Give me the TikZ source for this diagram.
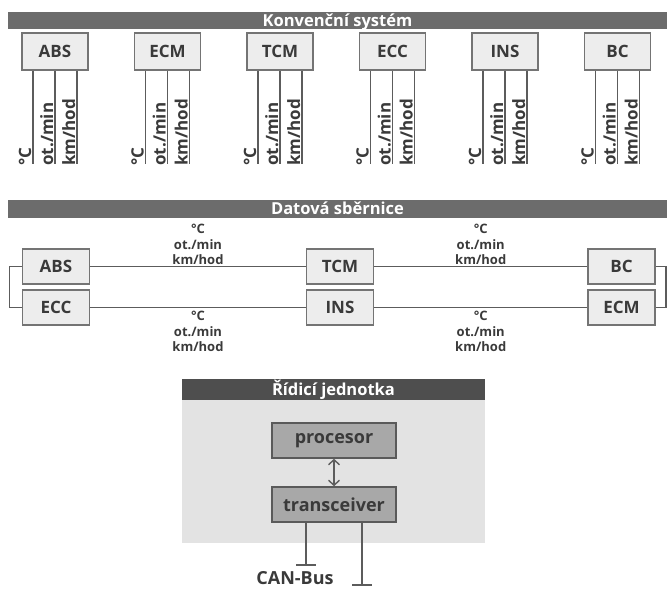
\documentclass[tikz,border=0pt]{standalone}
\usepackage{fontspec}
\setmainfont{Open Sans}
\usetikzlibrary{arrows.meta}
\definecolor{barcol}{HTML}{6C6C6C}
\definecolor{darkbar}{HTML}{4E4E4E}
\definecolor{boxfill}{HTML}{EDEDED}
\definecolor{boxline}{HTML}{747474}
\definecolor{chipfill}{HTML}{A8A8A8}
\definecolor{chipline}{HTML}{5A5A5A}
\definecolor{panel}{HTML}{E3E3E3}
\definecolor{wirecol}{HTML}{5C5C5C}
\definecolor{textcol}{HTML}{3A3A3A}

\begin{document}
\begin{tikzpicture}[x=1pt,y=1pt,
  titlebar/.style={fill=barcol,minimum height=17pt,inner sep=0pt,text=white,
    text height=12pt,text depth=0pt,font=\fontsize{16.5}{18}\bfseries\selectfont},
  ecu/.style={draw=boxline,line width=1.6pt,fill=boxfill,minimum width=66pt,
    minimum height=37pt,inner sep=0pt,text=textcol,font=\fontsize{17}{19}\bfseries\selectfont},
  chip/.style={draw=chipline,line width=1.6pt,fill=chipfill,minimum width=124pt,
    minimum height=35pt,inner sep=0pt,text=textcol,font=\fontsize{18}{20}\bfseries\selectfont},
  wire/.style={draw=wirecol,line width=1.4pt},
  sig/.style={rotate=90,anchor=base west,inner sep=0pt,xshift=-2.5pt,yshift=2pt,text=textcol,
    font=\fontsize{17}{19}\bfseries\selectfont},
  data/.style={align=center,inner sep=0pt,text=textcol,font=\fontsize{13}{15.5}\bfseries\selectfont}]
\useasboundingbox (0,0) rectangle (667,590);

% konvencni system
\node[titlebar,minimum width=659pt] (konv) at (337.5,569.5) {Konvenční systém};
\node[ecu] (abs1) at (55,538.5) {ABS};
\node[ecu] (ecm1) at (167.5,538.5) {ECM};
\node[ecu] (tcm1) at (280,538.5) {TCM};
\node[ecu] (ecc1) at (392.5,538.5) {ECC};
\node[ecu] (ins1) at (505,538.5) {INS};
\node[ecu] (bc1) at (617.5,538.5) {BC};
\draw[wire] ([xshift=-22pt]abs1.south) -- ++(0,-93) node[sig] (absa) {°C};
\draw[wire] (abs1.south) -- ++(0,-93) node[sig] (absb) {ot./min};
\draw[wire] ([xshift=22pt]abs1.south) -- ++(0,-93) node[sig] (absc) {km/hod};
\draw[wire] ([xshift=-22pt]ecm1.south) -- ++(0,-93) node[sig] (ecma) {°C};
\draw[wire] (ecm1.south) -- ++(0,-93) node[sig] (ecmb) {ot./min};
\draw[wire] ([xshift=22pt]ecm1.south) -- ++(0,-93) node[sig] (ecmc) {km/hod};
\draw[wire] ([xshift=-22pt]tcm1.south) -- ++(0,-93) node[sig] (tcma) {°C};
\draw[wire] (tcm1.south) -- ++(0,-93) node[sig] (tcmb) {ot./min};
\draw[wire] ([xshift=22pt]tcm1.south) -- ++(0,-93) node[sig] (tcmc) {km/hod};
\draw[wire] ([xshift=-22pt]ecc1.south) -- ++(0,-93) node[sig] (ecca) {°C};
\draw[wire] (ecc1.south) -- ++(0,-93) node[sig] (eccb) {ot./min};
\draw[wire] ([xshift=22pt]ecc1.south) -- ++(0,-93) node[sig] (eccc) {km/hod};
\draw[wire] ([xshift=-22pt]ins1.south) -- ++(0,-93) node[sig] (insa) {°C};
\draw[wire] (ins1.south) -- ++(0,-93) node[sig] (insb) {ot./min};
\draw[wire] ([xshift=22pt]ins1.south) -- ++(0,-93) node[sig] (insc) {km/hod};
\draw[wire] ([xshift=-22pt]bc1.south) -- ++(0,-93) node[sig] (bca) {°C};
\draw[wire] (bc1.south) -- ++(0,-93) node[sig] (bcb) {ot./min};
\draw[wire] ([xshift=22pt]bc1.south) -- ++(0,-93) node[sig] (bcc) {km/hod};

% datova sbernice
\node[titlebar,minimum width=659pt,minimum height=18pt] (dat) at (337.5,381) {Datová sběrnice};
\node[ecu,minimum width=67pt,minimum height=35pt] (abs2) at (56,323.5) {ABS};
\node[ecu,minimum width=67pt,minimum height=35pt] (ecc2) at (56,282.5) {ECC};
\node[ecu,minimum width=67pt,minimum height=35pt] (tcm2) at (340,323.5) {TCM};
\node[ecu,minimum width=67pt,minimum height=35pt] (ins2) at (340,282.5) {INS};
\node[ecu,minimum width=67pt,minimum height=35pt] (bc2) at (621.5,323.5) {BC};
\node[ecu,minimum width=67pt,minimum height=35pt] (ecm2) at (621.5,282.5) {ECM};
\draw[wire] (abs2.east) -- node[data,above=1pt] (lbl1) {°C\\ot./min\\km/hod} (tcm2.west);
\draw[wire] (tcm2.east) -- node[data,above=1pt] (lbl2) {°C\\ot./min\\km/hod} (bc2.west);
\draw[wire] (ecc2.east) -- node[data,below=3pt] (lbl3) {°C\\ot./min\\km/hod} (ins2.west);
\draw[wire] (ins2.east) -- node[data,below=3pt] (lbl4) {°C\\ot./min\\km/hod} (ecm2.west);
\draw[wire] (abs2.west) -- ++(-12,0) |- (ecc2.west);
\draw[wire] (bc2.east) -- ++(10,0) |- (ecm2.east);

% ridici jednotka
\fill[panel] (182,47) rectangle (485,211);
\node[titlebar,fill=darkbar,minimum width=303pt,minimum height=21pt] (rj) at (333.5,200.5) {Řídicí jednotka};
\node[chip] (proc) at (334,149.5) {procesor};
\node[chip] (trx) at (334,85.5) {transceiver};
\draw[wire,{Straight Barb[length=5pt,width=11pt]}-{Straight Barb[length=5pt,width=11pt]}] (proc) -- (trx);
\coordinate (canl) at (306,25);
\coordinate (canh) at (362,5);
\draw[wire] (trx.south -| canl) -- (canl);
\draw[wire] ([xshift=-10pt]canl) -- ([xshift=10pt]canl);
\draw[wire] (trx.south -| canh) -- (canh);
\draw[wire] ([xshift=-10pt]canh) -- ([xshift=10pt]canh);
\node[text=textcol,font=\fontsize{18}{20}\bfseries\selectfont,inner sep=0pt,
  anchor=base] (can) at (295,5.5) {CAN-Bus};
\end{tikzpicture}
\end{document}
